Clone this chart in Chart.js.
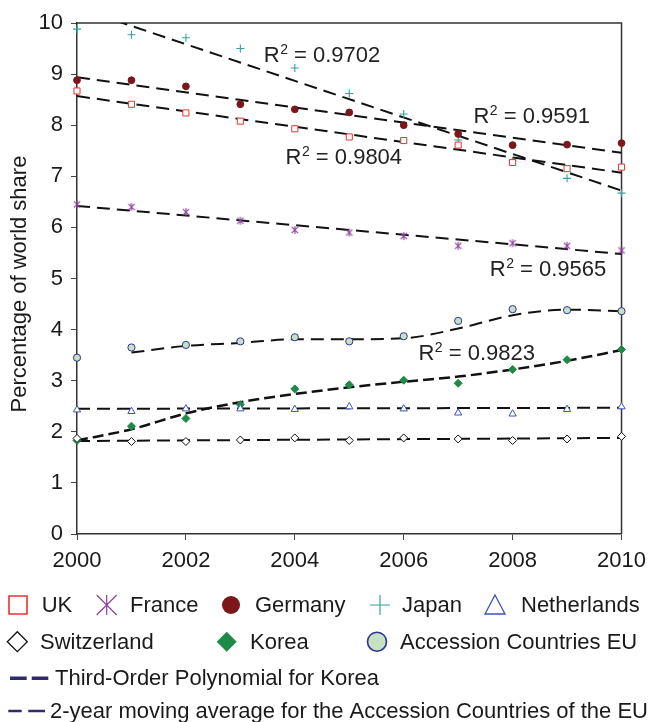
<!DOCTYPE html>
<html>
<head>
<meta charset="utf-8">
<script src="https://cdn.jsdelivr.net/npm/chart.js@4.4.1/dist/chart.umd.min.js"></script>
<style>
  html, body { margin: 0; padding: 0; background: #fff; }
  canvas { display: block; }
</style>
</head>
<body>
<canvas id="shareChart" width="654" height="722"></canvas>
<script>
// values (percentage of world share)
const years = [2000, 2001, 2002, 2003, 2004, 2005, 2006, 2007, 2008, 2009, 2010];
const uk          = [8.67, 8.41, 8.24, 8.08, 7.93, 7.77, 7.70, 7.61, 7.27, 7.15, 7.18];
const france      = [6.45, 6.40, 6.30, 6.13, 5.95, 5.90, 5.83, 5.64, 5.69, 5.64, 5.55];
const germany     = [8.88, 8.88, 8.76, 8.41, 8.31, 8.25, 8.00, 7.83, 7.61, 7.62, 7.65];
const japan       = [9.88, 9.77, 9.71, 9.50, 9.12, 8.62, 8.22, 7.71, 7.30, 6.96, 6.67];
const netherlands = [2.43, 2.40, 2.45, 2.45, 2.44, 2.49, 2.45, 2.37, 2.35, 2.44, 2.49];
const switzerland = [1.87, 1.81, 1.81, 1.84, 1.88, 1.83, 1.88, 1.86, 1.83, 1.86, 1.91];
const korea       = [1.83, 2.11, 2.26, 2.53, 2.84, 2.92, 3.01, 2.95, 3.22, 3.41, 3.61];
const accession   = [3.45, 3.65, 3.70, 3.77, 3.85, 3.77, 3.87, 4.17, 4.40, 4.38, 4.36];

// linear trend lines, start and end value as drawn
const trendYears = [2000, 2010];
const ukTrend          = [8.57, 7.07];
const franceTrend      = [6.42, 5.48];
const germanyTrend     = [8.94, 7.46];
const japanTrend       = [10.30, 6.72];
const netherlandsTrend = [2.45, 2.47];
const switzerlandTrend = [1.82, 1.88];

// third-order fit for Korea and 2-year moving average for accession countries
const koreaPoly = [1.83, 2.05, 2.36, 2.58, 2.74, 2.87, 2.98, 3.08, 3.22, 3.39, 3.60];
const avgYears = [2001, 2002, 2003, 2004, 2005, 2006, 2007, 2008, 2009, 2010];
const accessionAvg = [3.55, 3.68, 3.74, 3.81, 3.81, 3.83, 4.02, 4.28, 4.39, 4.36];

const r2Values = ['0.9702', '0.9591', '0.9804', '0.9565', '0.9823'];
const yTicks = [0, 10, 1];
const xTicks = [2000, 2010, 2];

const legendNames = ['UK', 'France', 'Germany', 'Japan', 'Netherlands',
                     'Switzerland', 'Korea', 'Accession Countries EU'];
const fitNames = ['Third-Order Polynomial for Korea',
                  '2-year moving average for the Accession Countries of the EU'];

const FONT = '"Liberation Sans", Arial, Helvetica, sans-serif';
const INK = '#1a1a1a';
const C = {
  uk: '#e8342e', france: '#8d3f9f', germany: '#7b1619', japan: '#36a0a0',
  netherlands: '#3856b2', switzerland: '#111111', korea: '#1d8a48',
  accFill: '#c6e1c3', accLine: '#2f3590', navy: '#2f2b6e'
};

const pts = (xs, ys) => xs.map((x, i) => ({ x, y: ys[i] }));

// six-spoke asterisk used for France
function asterisk(size, color, lw) {
  const c = document.createElement('canvas');
  c.width = size; c.height = size;
  const g = c.getContext('2d');
  const h = size / 2, r = h - 1;
  g.strokeStyle = color; g.lineWidth = lw;
  g.beginPath();
  g.moveTo(h, h - r); g.lineTo(h, h + r);
  g.moveTo(h - r * 0.8, h - r * 0.8); g.lineTo(h + r * 0.8, h + r * 0.8);
  g.moveTo(h + r * 0.8, h - r * 0.8); g.lineTo(h - r * 0.8, h + r * 0.8);
  g.stroke();
  return c;
}

function marks(label, ys, style, radius, border, fill, bw) {
  return {
    label, data: pts(years, ys), showLine: false, order: 0, clip: false,
    pointStyle: style, pointRadius: radius, pointBorderColor: border,
    pointBackgroundColor: fill, pointBorderWidth: bw
  };
}

function fit(label, xs, ys, dash, width, smooth) {
  return {
    label, data: pts(xs, ys), showLine: true, order: 1, clip: 0,
    pointRadius: 0, borderColor: '#111', borderWidth: width, borderDash: dash,
    cubicInterpolationMode: smooth ? 'monotone' : 'default', fill: false
  };
}

const trendDash = [13, 7];

function drawMark(ctx, kind, cx, cy, s) {
  ctx.save();
  ctx.beginPath();
  if (kind === 'square') {
    ctx.strokeStyle = C.uk; ctx.lineWidth = 1.6;
    ctx.rect(cx - s + 1, cy - s + 1, 2 * s - 2, 2 * s - 2);
    ctx.stroke();
  } else if (kind === 'asterisk') {
    ctx.strokeStyle = C.france; ctx.lineWidth = 1.2;
    ctx.moveTo(cx, cy - s); ctx.lineTo(cx, cy + s);
    ctx.moveTo(cx - s, cy - s); ctx.lineTo(cx + s, cy + s);
    ctx.moveTo(cx + s, cy - s); ctx.lineTo(cx - s, cy + s);
    ctx.stroke();
  } else if (kind === 'dot') {
    ctx.fillStyle = C.germany;
    ctx.arc(cx, cy, s - 1, 0, Math.PI * 2);
    ctx.fill();
  } else if (kind === 'plus') {
    ctx.strokeStyle = C.japan; ctx.lineWidth = 1.2;
    ctx.moveTo(cx, cy - s); ctx.lineTo(cx, cy + s);
    ctx.moveTo(cx - s, cy); ctx.lineTo(cx + s, cy);
    ctx.stroke();
  } else if (kind === 'triangle') {
    ctx.strokeStyle = C.netherlands; ctx.lineWidth = 1.3;
    ctx.moveTo(cx, cy - s); ctx.lineTo(cx + s, cy + s - 1); ctx.lineTo(cx - s, cy + s - 1);
    ctx.closePath(); ctx.stroke();
  } else if (kind === 'diamond' || kind === 'solidDiamond') {
    ctx.moveTo(cx, cy - s); ctx.lineTo(cx + s, cy); ctx.lineTo(cx, cy + s); ctx.lineTo(cx - s, cy);
    ctx.closePath();
    if (kind === 'diamond') { ctx.strokeStyle = C.switzerland; ctx.lineWidth = 1.3; ctx.stroke(); }
    else { ctx.fillStyle = C.korea; ctx.fill(); }
  } else if (kind === 'ring') {
    ctx.fillStyle = C.accFill; ctx.strokeStyle = C.accLine; ctx.lineWidth = 1.6;
    ctx.arc(cx, cy, s - 0.5, 0, Math.PI * 2);
    ctx.fill(); ctx.stroke();
  }
  ctx.restore();
}

const decorations = {
  id: 'decorations',
  beforeDraw(chart) {
    const { ctx } = chart;
    ctx.save();
    ctx.fillStyle = '#fff';
    ctx.fillRect(0, 0, chart.width, chart.height);
    ctx.restore();
  },
  beforeDatasetsDraw(chart) {
    // frame on top and right, under the markers
    const { ctx, chartArea: a } = chart;
    ctx.save();
    ctx.strokeStyle = '#333'; ctx.lineWidth = 1.5;
    ctx.beginPath();
    ctx.moveTo(a.left, a.top); ctx.lineTo(a.right, a.top); ctx.lineTo(a.right, a.bottom);
    ctx.stroke();
    ctx.restore();
  },
  afterDraw(chart) {
    const { ctx, scales: { x, y } } = chart;
    ctx.save();

    // R² labels, anchored in data units (left edge, baseline)
    const spots = [[2003.43, 9.24], [2007.28, 8.05], [2003.83, 7.24], [2007.58, 5.05], [2006.27, 3.41]];
    ctx.fillStyle = '#222';
    ctx.textBaseline = 'alphabetic'; ctx.textAlign = 'left';
    r2Values.forEach((v, i) => {
      let px = x.getPixelForValue(spots[i][0]);
      const py = y.getPixelForValue(spots[i][1]);
      ctx.font = '22px ' + FONT;
      ctx.fillText('R', px, py);
      px += ctx.measureText('R').width + 0.5;
      ctx.font = '14px ' + FONT;
      ctx.fillText('2', px, py - 8);
      px += ctx.measureText('2').width;
      ctx.font = '22px ' + FONT;
      ctx.fillText(' = ' + v, px, py);
    });

    // y axis title
    ctx.save();
    ctx.translate(20, 284);
    ctx.rotate(-Math.PI / 2);
    ctx.font = '22px ' + FONT;
    ctx.fillStyle = INK;
    ctx.textAlign = 'center'; ctx.textBaseline = 'middle';
    ctx.fillText('Percentage of world share', 0, 0);
    ctx.restore();

    // legend
    const kinds = ['square', 'asterisk', 'dot', 'plus', 'triangle', 'diamond', 'solidDiamond', 'ring'];
    const slots = [[18, 605, 41.7], [106.7, 605, 130], [231, 605, 255], [380, 605, 402], [495, 605, 521],
                   [17.3, 641.7, 40], [226.7, 641.7, 250], [377, 641.7, 400]];
    ctx.font = '22px ' + FONT;
    ctx.fillStyle = INK;
    ctx.textBaseline = 'middle';
    legendNames.forEach((name, i) => {
      const [mx, my, tx] = slots[i];
      drawMark(ctx, kinds[i], mx, my, 10);
      ctx.fillText(name, tx, my + 1);
    });

    const fitRows = [
      { y: 678.3, segs: [[10, 26.7], [31.7, 48.3]], w: 3.5, tx: 55 },
      { y: 711, segs: [[8.3, 21.7], [28.3, 45]], w: 2.6, tx: 50 }
    ];
    fitNames.forEach((name, i) => {
      const r = fitRows[i];
      ctx.strokeStyle = C.navy; ctx.lineWidth = r.w;
      ctx.beginPath();
      r.segs.forEach(([s, e]) => { ctx.moveTo(s, r.y); ctx.lineTo(e, r.y); });
      ctx.stroke();
      ctx.fillStyle = INK;
      ctx.fillText(name, r.tx, r.y + 1);
    });

    ctx.restore();
  }
};

const axisBorder = { display: true, color: '#333', width: 1.5 };
const tickGrid = { display: true, drawOnChartArea: false, drawTicks: true, tickLength: 6, color: '#444', lineWidth: 1 };

new Chart(document.getElementById('shareChart'), {
  type: 'scatter',
  data: {
    datasets: [
      marks('UK', uk, 'rect', 4.3, C.uk, '#fff', 1),
      marks('France', france, asterisk(10, C.france, 1.1), 5, C.france, C.france, 1),
      marks('Germany', germany, 'circle', 3.4, C.germany, C.germany, 1),
      marks('Japan', japan, 'cross', 4, C.japan, C.japan, 1.1),
      marks('Netherlands', netherlands, 'triangle', 4.2, C.netherlands, '#fff', 1),
      marks('Switzerland', switzerland, 'rectRot', 4, C.switzerland, '#fff', 1),
      marks('Korea', korea, 'rectRot', 4, C.korea, C.korea, 1),
      marks('Accession Countries EU', accession, 'circle', 3.6, C.accLine, C.accFill, 1),
      fit('UK trend', trendYears, ukTrend, trendDash, 2, false),
      fit('France trend', trendYears, franceTrend, trendDash, 2, false),
      fit('Germany trend', trendYears, germanyTrend, trendDash, 2, false),
      fit('Japan trend', trendYears, japanTrend, trendDash, 2, false),
      fit('Netherlands trend', trendYears, netherlandsTrend, trendDash, 2, false),
      fit('Switzerland trend', trendYears, switzerlandTrend, trendDash, 2, false),
      fit(fitNames[0], years, koreaPoly, [11, 5], 2.5, true),
      fit(fitNames[1], avgYears, accessionAvg, trendDash, 2, true)
    ]
  },
  options: {
    responsive: false,
    animation: false,
    layout: { padding: { left: 0, right: 31, top: 23, bottom: 148 } },
    plugins: { legend: { display: false }, tooltip: { enabled: false } },
    scales: {
      x: {
        type: 'linear', min: xTicks[0], max: xTicks[1],
        afterFit: s => { s.height = 40; },
        grid: tickGrid, border: axisBorder,
        ticks: { stepSize: xTicks[2], padding: 8, color: INK, font: { family: FONT, size: 22 },
                 callback: v => String(v), maxRotation: 0 }
      },
      y: {
        min: yTicks[0], max: yTicks[1],
        afterFit: s => { s.width = 77; },
        grid: tickGrid, border: axisBorder,
        ticks: { stepSize: yTicks[2], padding: 8, color: INK, font: { family: FONT, size: 22 } }
      }
    }
  },
  plugins: [decorations]
});
</script>
</body>
</html>
